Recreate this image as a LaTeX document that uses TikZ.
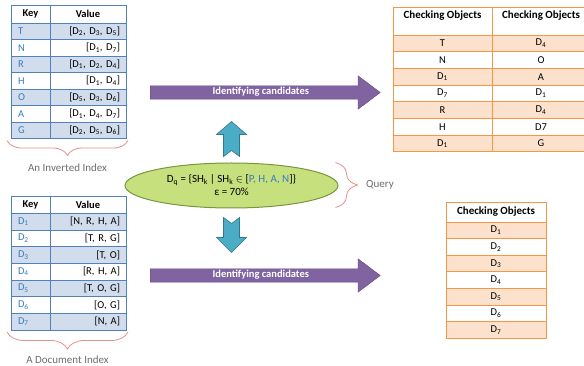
\documentclass[tikz,border=0pt]{standalone}
\usepackage{fontspec}
\setmainfont{Carlito}
\usetikzlibrary{positioning, shapes.geometric, shapes.arrows, decorations.pathreplacing}
\definecolor{idxblue}{RGB}{79,129,189}
\definecolor{idxfill}{RGB}{209,220,236}
\definecolor{keyblue}{RGB}{55,125,195}
\definecolor{chkorange}{RGB}{247,150,70}
\definecolor{chkfill}{RGB}{252,226,205}
\definecolor{candpurple}{RGB}{128,100,162}
\definecolor{candedge}{RGB}{92,70,120}
\definecolor{qteal}{RGB}{75,172,198}
\definecolor{qtealedge}{RGB}{50,120,140}
\definecolor{qgreen}{RGB}{197,224,124}
\definecolor{qedge}{RGB}{120,150,60}
\definecolor{bracered}{RGB}{228,145,145}
\definecolor{notegray}{RGB}{110,110,110}
\newcommand{\Dsub}[1]{D\textsubscript{#1}}

\begin{document}
\begin{tikzpicture}[x=1pt, y=-1pt, font=\fontsize{10.5}{12}\selectfont,
  tc/.style={draw=idxblue, line width=0.9pt, inner sep=0pt, outer sep=0pt, minimum height=16.5pt},
  thd/.style={tc, font=\fontsize{10.5}{12}\selectfont\bfseries, fill=white},
  tkey/.style={tc, text width=25pt, inner xsep=7pt, align=left, text=keyblue},
  tval/.style={tc, text width=64pt, inner xsep=6pt, align=right},
  oc/.style={draw=chkorange, line width=0.9pt, inner sep=0pt, outer sep=0pt, minimum height=16.7pt},
  ohd/.style={oc, font=\fontsize{11}{12}\selectfont\bfseries, fill=white},
  cand/.style={single arrow, draw=candedge, fill=candpurple, text=white,
               font=\fontsize{10.5}{12}\selectfont\bfseries, minimum height=230pt, minimum width=33pt,
               single arrow head extend=10pt, single arrow tip angle=74,
               text height=7pt, text depth=2pt, inner ysep=2pt, anchor=tail},
  qarr/.style={draw=qtealedge, fill=qteal, line width=0.6pt},
  brc/.style={draw=bracered, line width=0.8pt, decorate},
  note/.style={text=notegray, font=\fontsize{11}{12}\selectfont}]
\clip (0,0) rectangle (584,366);
% inverted index
\node[thd, minimum width=39pt, minimum height=18pt, anchor=north west] (inv-k0) at (11,5) {Key};
\node[thd, minimum width=76pt, minimum height=18pt, right=0pt of inv-k0] (inv-v0) {Value};
\foreach \k/\v [count=\i] in {T/{[\Dsub2, \Dsub3, \Dsub5]}, N/{[\Dsub1, \Dsub7]},
    R/{[\Dsub1, \Dsub2, \Dsub4]}, H/{[\Dsub1, \Dsub4]}, O/{[\Dsub5, \Dsub3, \Dsub6]},
    A/{[\Dsub1, \Dsub4, \Dsub7]}, G/{[\Dsub2, \Dsub5, \Dsub6]}}{
  \pgfmathtruncatemacro\j{\i-1}
  \ifodd\i\relax\def\rf{idxfill}\else\def\rf{white}\fi
  \node[tkey, fill=\rf, below=0pt of inv-k\j] (inv-k\i) {\k};
  \node[tval, fill=\rf, right=0pt of inv-k\i] (inv-v\i) {\v};
}
\draw[brc, decoration={brace, amplitude=15pt}] ([xshift=2pt, yshift=-2pt]inv-v7.south east)
  -- ([xshift=-4pt, yshift=-2pt]inv-k7.south west) node[note, midway, below=20pt] (inv-lbl) {An Inverted Index};
% document index
\node[thd, minimum width=39pt, minimum height=16.6pt, anchor=north west] (doc-k0) at (11,196.7) {Key};
\node[thd, minimum width=76pt, minimum height=16.6pt, right=0pt of doc-k0] (doc-v0) {Value};
\foreach \v [count=\i] in {{[N, R, H, A]}, {[T, R, G]}, {[T, O]}, {[R, H, A]},
    {[T, O, G]}, {[O, G]}, {[N, A]}}{
  \pgfmathtruncatemacro\j{\i-1}
  \ifodd\i\relax\def\rf{idxfill}\else\def\rf{white}\fi
  \node[tkey, fill=\rf, minimum height=16.67pt, below=0pt of doc-k\j] (doc-k\i) {\Dsub{\i}};
  \node[tval, fill=\rf, minimum height=16.67pt, right=0pt of doc-k\i] (doc-v\i) {\v};
}
\draw[brc, decoration={brace, amplitude=17pt}] ([xshift=2pt, yshift=-2pt]doc-v7.south east)
  -- ([xshift=-4pt, yshift=-2pt]doc-k7.south west) node[note, midway, below=20pt] (doc-lbl) {A Document Index};
% query
\node[ellipse, draw=qedge, fill=qgreen, line width=1pt, minimum width=213pt, minimum height=45pt,
      align=center, font=\fontsize{11}{13}\selectfont, inner sep=1pt] (q) at (231.5,185.5)
  {D\textsubscript{q} = \{SH\textsubscript{k}\,| SH\textsubscript{k} $\in$ [\textcolor{keyblue}{P, H, A, N}]\}\\ε = 70\%};
\draw[brc, decoration={brace, amplitude=22pt}] ([shift={(-3pt,23pt)}]q.east)
  -- ([shift={(-3pt,-22pt)}]q.east) node[note, midway, right=27pt] (q-lbl) {Query};
\draw[qarr] (q.north) ++(0,-12) -- ++(8,6) -- ++(0,-22) -- ++(7,0) -- ++(-15,-13)
  -- ++(-15,13) -- ++(7,0) -- ++(0,22) -- cycle;
\draw[qarr] (q.south) ++(0,15) -- ++(8,-6) -- ++(0,20) -- ++(7,0) -- ++(-15,15)
  -- ++(-15,-15) -- ++(7,0) -- ++(0,-20) -- cycle;
\node[cand] (cand-up) at (150,92.5) {Identifying candidates};
\node[cand] (cand-dn) at (150,275.5) {Identifying candidates};
% candidate pairs
\node[ohd, minimum width=99pt, text height=12pt, text depth=16pt, anchor=north west] (pair-a0) at (393,7) {Checking Objects};
\node[ohd, minimum width=98pt, text height=12pt, text depth=16pt, right=0pt of pair-a0] (pair-b0) {Checking Objects};
\foreach \a/\b [count=\i] in {T/\Dsub4, N/O, \Dsub1/A, \Dsub7/\Dsub1, R/\Dsub4, H/D7, \Dsub1/G}{
  \pgfmathtruncatemacro\j{\i-1}
  \ifodd\i\relax\def\rf{chkfill}\else\def\rf{white}\fi
  \node[oc, minimum width=99pt, fill=\rf, below=0pt of pair-a\j] (pair-a\i) {\a};
  \node[oc, minimum width=98pt, fill=\rf, right=0pt of pair-a\i] (pair-b\i) {\b};
}
% candidate documents
\node[ohd, minimum width=100pt, minimum height=20pt, anchor=north west] (chk-0) at (446,202) {Checking Objects};
\foreach \i in {1,...,7}{
  \pgfmathtruncatemacro\j{\i-1}
  \ifodd\i\relax\def\rf{chkfill}\else\def\rf{white}\fi
  \node[oc, minimum width=100pt, minimum height=16.6pt, fill=\rf, below=0pt of chk-\j] (chk-\i) {\Dsub{\i}};
}
\end{tikzpicture}
\end{document}
